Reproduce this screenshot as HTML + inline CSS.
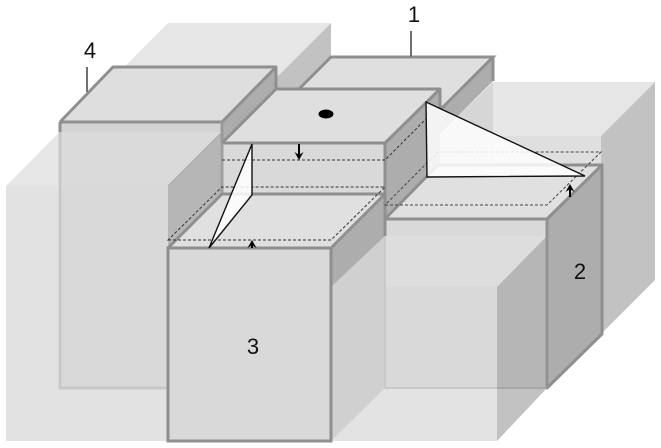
<!DOCTYPE html>
<html><head><meta charset="utf-8"><style>
html,body{margin:0;padding:0;background:#fff}
svg{display:block}
text{font-family:"Liberation Sans",sans-serif;font-size:22px;fill:#111;text-anchor:middle}
</style></head><body>
<svg width="661" height="448" viewBox="0 0 661 448" xmlns="http://www.w3.org/2000/svg">
<!-- big left box -->
<polygon points="6,186 168,23 331,23 168,186" fill="#e6e6e6"/>
<polygon points="6,186 168,186 168,441 6,441" fill="#e2e2e2"/>
<polygon points="168,441 331,441 331,300 168,300" fill="#e2e2e2"/>
<polygon points="277,77 331,23 331,57 299,89 277,89" fill="#c2c2c2"/>
<!-- block 1 -->
<polygon points="299,89 331,57 493,57 440,110 400,110 300,110" fill="#dfdfdf"/>
<polygon points="493,57 493,81 426,148 426,124" fill="#adadad"/>
<polyline points="299,89 331,57 493,57 440,110" fill="none" stroke="#8f8f8f" stroke-width="3"/>
<line x1="493" y1="57" x2="493" y2="81" stroke="#8f8f8f" stroke-width="3"/>
<line x1="411" y1="31" x2="411" y2="57" stroke="#707070" stroke-width="2"/>
<!-- back right box -->
<polygon points="493,82 655,82 601,136 438,136" fill="#e6e6e6"/>
<polygon points="493,82 438,136 493,136" fill="#d6d6d6"/>
<polygon points="438,136 601,136 601,170 438,170" fill="#dfdfdf"/>
<polygon points="438,136 493,136 493,170 438,170" fill="#d8d8d8"/>
<polygon points="426,148 438,136 438,180 426,180" fill="#c4c4c4"/>
<polygon points="601,136 655,82 655,280 601,334" fill="#c2c2c2"/>
<!-- block 4 -->
<polygon points="60,122 113,67 276,67 222,122" fill="#dedede"/>
<polygon points="222,122 276,67 276,88 222,143" fill="#adadad"/>
<polygon points="60,122 222,122 222,132 60,132" fill="#d3d3d3"/>
<polygon points="60,132 222,132 168,186 60,186" fill="#dadada"/>
<rect x="60" y="186" width="108" height="202" fill="#d9d9d9"/>
<polygon points="168,186 222,132 222,194 168,248" fill="#b6b6b6"/>
<polyline points="60,122 113,67 276,67 222,122 60,122" fill="none" stroke="#8f8f8f" stroke-width="3" stroke-linejoin="round"/>
<line x1="276" y1="67" x2="276" y2="88" stroke="#8f8f8f" stroke-width="3"/>
<line x1="222" y1="122" x2="222" y2="143" stroke="#9a9a9a" stroke-width="3"/>
<polyline points="60,122 60,132" fill="none" stroke="#8f8f8f" stroke-width="3"/>
<polyline points="60,132 60,388 168,388" fill="none" stroke="#c8c8c8" stroke-width="3"/>
<line x1="87" y1="67" x2="87" y2="92" stroke="#707070" stroke-width="2"/>
<line x1="222" y1="132" x2="168" y2="186" stroke="#a8a8a8" stroke-width="1"/>
<!-- middle block -->
<polygon points="222,143 276,89 440,89 385,143" fill="#dfdfdf"/>
<rect x="222" y="143" width="163" height="52" fill="#d9d9d9"/>
<polygon points="385,143 440,89 440,165 385,220" fill="#adadad"/>
<polyline points="222,143 276,89 440,89 385,143 222,143" fill="none" stroke="#8f8f8f" stroke-width="3" stroke-linejoin="round"/>
<line x1="440" y1="89" x2="440" y2="110" stroke="#8f8f8f" stroke-width="3"/>
<line x1="385" y1="143" x2="385" y2="220" stroke="#8f8f8f" stroke-width="3"/>
<line x1="222" y1="143" x2="222" y2="195" stroke="#a0a0a0" stroke-width="3"/>
<ellipse cx="326" cy="114" rx="7.500" ry="4.500" fill="#000"/>
<!-- block 2 -->
<polygon points="385,219 438,165 601,165 547,219" fill="#e0e0e0"/>
<rect x="385" y="219" width="162" height="169" fill="#d9d9d9"/>
<polygon points="547,219 602,165 602,334 547,388" fill="#adadad"/>
<polyline points="385,219 438,165 602,165 547,219 385,219" fill="none" stroke="#8f8f8f" stroke-width="3" stroke-linejoin="round"/>
<polyline points="602,165 602,334 547,388 547,219" fill="none" stroke="#8f8f8f" stroke-width="3" stroke-linejoin="round"/>
<!-- front right box -->
<rect x="331" y="287" width="166" height="154" fill="#d9d9d9"/>
<polygon points="385,236 547,236 497,287 331,287" fill="#dddddd"/>
<polygon points="331,287 385,236 385,388 331,441" fill="#d0d0d0"/>
<polygon points="385,388 497,388 497,441 331,441" fill="#e3e3e3"/>
<polygon points="497,287 547,236 547,388 497,388" fill="#b6b6b6"/>
<polygon points="497,388 547,388 497,441" fill="#c2c2c2"/>
<line x1="385" y1="388" x2="497" y2="388" stroke="#cacaca" stroke-width="2"/>
<line x1="497" y1="388" x2="547" y2="388" stroke="#a8a8a8" stroke-width="2"/>
<line x1="385" y1="236" x2="385" y2="388" stroke="#cacaca" stroke-width="2"/>
<line x1="547" y1="219" x2="547" y2="388" stroke="#939393" stroke-width="3"/>
<!-- block 3 -->
<polygon points="168,248 222,194 385,194 331,248" fill="#e0e0e0"/>
<polygon points="331,248 385,194 385,236 331,287" fill="#adadad"/>
<rect x="168" y="248" width="163" height="193" fill="#d9d9d9" stroke="#8f8f8f" stroke-width="3"/>
<polyline points="168,248 222,194 385,194 331,248" fill="none" stroke="#8f8f8f" stroke-width="3" stroke-linejoin="round"/>
<line x1="385" y1="194" x2="385" y2="236" stroke="#8f8f8f" stroke-width="3"/>
<!-- dashed planes -->
<g fill="none" stroke="#333" stroke-width="1" stroke-dasharray="3 2">
<polygon points="168,240 331,240 385,187 222,187"/>
<polyline points="222,160 385,160 427,118"/>
<polygon points="385,205 547,205 601,152 438,152" stroke="#444"/>
</g>
<!-- triangles -->
<polygon points="426,102 585,176 427,177" fill="#fff" fill-opacity=".85"/>
<polygon points="426,102 585,176 427,177" fill="none" stroke="#111" stroke-width="1.400"/>
<polygon points="252,144 252,195 209,248" fill="#fff" fill-opacity=".85"/>
<polygon points="252,144 252,195 209,248" fill="none" stroke="#111" stroke-width="1.400"/>
<!-- arrows -->
<g stroke="#000" fill="none" stroke-width="2">
<line x1="299" y1="144" x2="299" y2="156"/>
<line x1="252" y1="248" x2="252" y2="244"/>
<line x1="570" y1="197" x2="570" y2="188"/>
</g>
<polygon points="299,160 294.500,152 299,155 303.500,152" fill="#000"/>
<polygon points="252,240 247.500,248 252,245 256.500,248" fill="#000"/>
<polygon points="570,184 565.500,192 570,189 574.500,192" fill="#000"/>
<!-- labels -->
<text x="414" y="22">1</text>
<text x="90" y="58">4</text>
<text x="253" y="354">3</text>
<text x="580" y="279">2</text>
</svg>
</body></html>
